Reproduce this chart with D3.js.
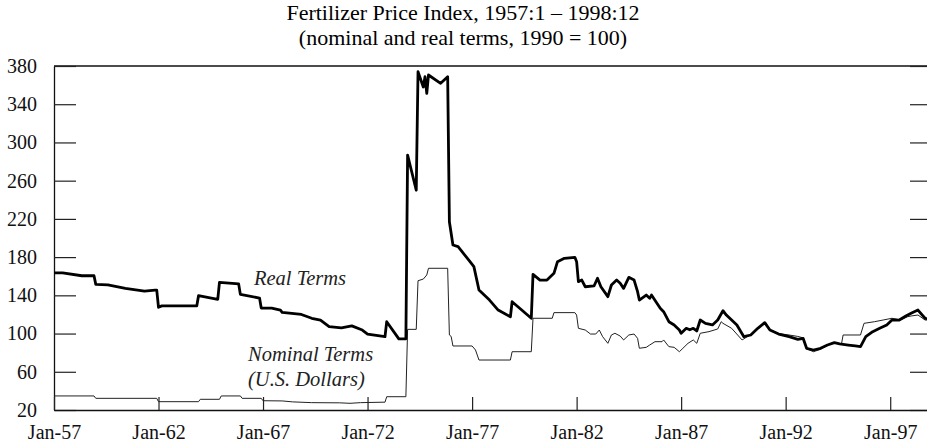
<!DOCTYPE html>
<html>
<head>
<meta charset="utf-8">
<script src="https://cdn.jsdelivr.net/npm/d3@7"></script>
<style>
  body { margin: 0; background: #fff; }
  svg { display: block; font-family: "Liberation Serif", "Times New Roman", serif; }
</style>
</head>
<body>
<script>
'use strict';

// real terms (thick line), monthly readings picked off the chart
const realMonths = [
  "1957-01","1957-06","1958-05","1958-12","1959-01","1959-08","1960-06","1961-05","1961-11","1961-12",
  "1962-01","1962-03","1963-11","1963-12","1964-11","1964-12","1965-11","1965-12","1966-11","1966-12",
  "1967-06","1967-11","1967-12","1968-11","1969-05","1969-10","1970-03","1970-10","1971-04","1971-10",
  "1972-01","1972-11","1972-12","1973-07","1973-11","1973-12","1974-05","1974-06","1974-09","1974-10",
  "1974-11","1974-12","1975-07","1975-11","1975-12","1976-02","1976-05","1976-11","1977-02","1977-05",
  "1977-11","1978-04","1978-11","1978-12","1979-11","1979-12","1980-04","1980-08","1980-12","1981-02",
  "1981-06","1981-12","1982-01","1982-02","1982-04","1982-06","1982-11","1983-01","1983-03","1983-07",
  "1983-09","1983-12","1984-02","1984-04","1984-07","1984-10","1984-12","1985-01","1985-05","1985-07",
  "1985-08","1986-01","1986-03","1986-06","1986-09","1986-12","1987-01","1987-04","1987-06","1987-08",
  "1987-10","1987-12","1988-03","1988-07","1988-10","1989-01","1989-03","1989-09","1990-01","1990-05",
  "1990-09","1991-01","1991-04","1991-09","1992-03","1992-08","1992-11","1993-01","1993-05","1993-09",
  "1994-01","1994-05","1994-08","1995-01","1995-05","1995-08","1995-11","1996-03","1996-07","1996-11",
  "1997-02","1997-06","1997-10","1998-01","1998-05","1998-09","1998-12"
];
const realValues = [
  163.5,163.5,160.5,160.5,151.5,151,147.3,144.5,145.5,145.5,
  127.5,129,129,139.6,135.8,153.6,152,141,137.2,126.7,
  126.7,124.6,122.2,120,116,114,107.2,106,108,103.7,
  99.5,96.7,112.4,94.4,94.5,286.8,250,374,358,368.8,
  351.4,370.6,361.9,368.8,217,192.7,191,177,170,145.6,
  135,124.6,117.6,133.3,116,162,156,156,163,175.2,
  178.7,179.8,175.2,154.3,156,149,149.8,157.8,149,138.6,
  150.8,156,152.6,147.3,158.8,156,143.8,135.1,140.3,136.9,
  140.3,126.4,122.9,112.4,109,103.7,100.3,105.5,104,105.5,
  102.7,114.2,110.7,109,114.2,123.9,119.4,109,96.7,98.5,
  105.5,111.4,103.7,99.5,96.7,94,95,84.6,82.8,84.6,
  88,90.5,89.1,88,87,86.3,96.7,102,105.5,109,
  114.2,114,118.4,121.2,124.6,116,115
];

// nominal terms, U.S. dollars (thin line)
const nominalMonths = [
  "1957-01","1958-12","1959-01","1961-12","1962-01","1963-12","1964-01","1964-12","1965-01","1965-12",
  "1966-01","1966-12","1967-01","1967-12","1968-06","1969-05","1970-09","1971-03","1971-09","1972-11",
  "1972-12","1973-11","1973-12","1974-05","1974-06","1974-09","1974-11","1974-12","1975-11","1975-12",
  "1976-01","1976-02","1977-01","1977-03","1977-05","1978-11","1978-12","1979-11","1979-12","1980-11",
  "1980-12","1981-12","1982-01","1982-02","1982-06","1982-09","1982-12","1983-02","1983-04","1983-07",
  "1983-09","1983-11","1984-02","1984-04","1984-07","1984-10","1984-12","1985-01","1985-05","1985-07",
  "1985-10","1986-02","1986-03","1986-06","1986-09","1986-12","1987-02","1987-05","1987-08","1987-10",
  "1987-12","1988-05","1988-10","1988-12","1989-01","1989-06","1989-12","1990-03","1990-05","1990-09",
  "1991-01","1991-04","1991-09","1992-03","1992-08","1992-11","1993-01","1993-05","1993-09","1994-01",
  "1994-05","1994-09","1994-10","1995-08","1995-10","1996-04","1996-09","1997-02","1997-07","1997-11",
  "1998-01","1998-05","1998-09","1998-12"
];
const nominalValues = [
  34.7,34.7,32.2,32.2,28.7,28.7,31.2,31.2,34.7,34.7,
  32.2,32.2,29.7,29.5,28.5,27.7,27.5,27,27.7,28.2,
  33.9,33.9,104.4,104.4,155.3,157,161.3,168.3,168.3,98.5,
  97,87,87,82.8,72.3,72.3,81,81,116,116,
  121.9,121.9,119.4,105.5,103.7,99.5,99.5,103.7,96.7,89.8,
  98.5,100.3,97.4,93.3,98.5,99.5,95,84.6,85.6,88,
  91.5,91.5,93.3,86.3,85.6,81,84.6,89.8,93.3,89.8,
  100.3,102,104.8,112.4,110.7,105.5,93.3,96.7,99,105.5,
  111,104,100,98.5,97,95.5,84,81,83.5,87.5,
  90.5,88.5,98.5,98.5,110.7,112.4,114.2,116,114.2,117.6,
  118.4,119.4,114.2,114
];

const yTicks = [20, 60, 100, 140, 180, 220, 260, 300, 340, 380];
const xTickYears = [1957, 1962, 1967, 1972, 1977, 1982, 1987, 1992, 1997];

(function() {
  const width = 927, height = 447;
  const left = 54, right = 932, top = 66, bottom = 410;
  const serif = '"Liberation Serif", "Times New Roman", serif';
  const parse = d3.timeParse("%Y-%m");

  const svg = d3.select("body").append("svg")
    .attr("width", width)
    .attr("height", height);

  let x = d3.scaleTime()
    .domain([new Date(1957, 0, 1), new Date(1999, 0, 1)])
    .range([left, right]);
  let y = d3.scaleLinear()
    .domain([20, 380])
    .range([bottom, top]);

  // title, two lines
  svg.append("text")
    .attr("x", 463).attr("y", 20)
    .attr("text-anchor", "middle")
    .style("font-size", "22px")
    .text("Fertilizer Price Index, 1957:1 \u2013 1998:12");
  svg.append("text")
    .attr("x", 463).attr("y", 45)
    .attr("text-anchor", "middle")
    .style("font-size", "22px")
    .text("(nominal and real terms, 1990 = 100)");

  // frame: top line and (clipped) right side
  svg.append("line")
    .attr("x1", left).attr("x2", right)
    .attr("y1", top).attr("y2", top)
    .attr("stroke", "#111").attr("stroke-width", 1.3);
  svg.append("line")
    .attr("x1", right).attr("x2", right)
    .attr("y1", top).attr("y2", bottom)
    .attr("stroke", "#111").attr("stroke-width", 1.3);

  // left axis, ticks pointing inward
  let yAxis = d3.axisLeft(y)
    .tickValues(yTicks)
    .tickSize(-22)
    .tickSizeOuter(0)
    .tickPadding(17);
  svg.append("g")
    .attr("transform", `translate(${left},0)`)
    .call(yAxis)
    .attr("font-family", serif)
    .attr("font-size", 20)
    .call(g => g.selectAll("text").attr("fill", "#111"));

  // right ticks, no labels
  let yAxisR = d3.axisRight(y)
    .tickValues(yTicks)
    .tickSize(-22)
    .tickSizeOuter(0)
    .tickFormat("");
  svg.append("g")
    .attr("transform", `translate(${right},0)`)
    .call(yAxisR);

  // bottom axis with Jan-yy labels
  let xAxis = d3.axisBottom(x)
    .tickValues(xTickYears.map(yr => new Date(yr, 0, 1)))
    .tickSize(-13)
    .tickSizeOuter(0)
    .tickPadding(15)
    .tickFormat(d3.timeFormat("Jan-%y"));
  svg.append("g")
    .attr("transform", `translate(0,${bottom})`)
    .call(xAxis)
    .attr("font-family", serif)
    .attr("font-size", 20)
    .call(g => g.selectAll("text").attr("fill", "#111"));

  svg.selectAll(".domain").attr("stroke", "#111").attr("stroke-width", 1.3);
  svg.selectAll(".tick line").attr("stroke", "#222").attr("stroke-width", 1.2);

  let line = d3.line()
    .x(d => x(d.date))
    .y(d => y(d.value));

  let nominal = nominalMonths.map((m, i) => ({ date: parse(m), value: nominalValues[i] }));
  let real = realMonths.map((m, i) => ({ date: parse(m), value: realValues[i] }));

  svg.append("path")
    .datum(nominal)
    .attr("d", line)
    .attr("fill", "none")
    .attr("stroke", "#222")
    .attr("stroke-width", 1);

  svg.append("path")
    .datum(real)
    .attr("d", line)
    .attr("fill", "none")
    .attr("stroke", "#000")
    .attr("stroke-width", 2.8)
    .attr("stroke-linejoin", "round");

  // series labels
  const notes = [
    { t: "Real Terms", x: 254, y: 285 },
    { t: "Nominal Terms", x: 248, y: 361 },
    { t: "(U.S. Dollars)", x: 248, y: 386 }
  ];
  svg.selectAll(".note")
    .data(notes)
    .enter()
    .append("text")
      .attr("class", "note")
      .attr("x", d => d.x)
      .attr("y", d => d.y)
      .style("font-size", "20.5px")
      .style("font-style", "italic")
      .attr("fill", "#222")
      .text(d => d.t);
})();
</script>
</body>
</html>
